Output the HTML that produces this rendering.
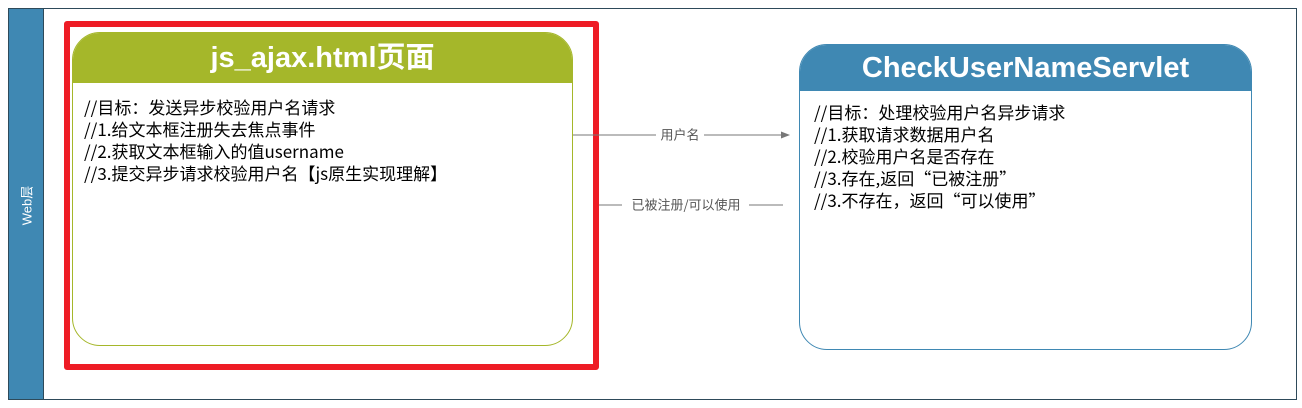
<!DOCTYPE html>
<html><head><meta charset="utf-8"><style>
body{margin:0;width:1302px;height:408px;background:#fff;position:relative;overflow:hidden;font-family:"Liberation Sans","Noto Sans CJK SC",sans-serif}
.abs{position:absolute;box-sizing:border-box}
.t{font-size:17px;line-height:22px;color:#000;font-family:"Noto Sans CJK SC",sans-serif;white-space:nowrap}
</style></head><body>
<div class="abs" style="left:8px;top:8px;width:1289px;height:392px;border:1px solid #2e4a5a"></div>
<div class="abs" style="left:8px;top:8px;width:36px;height:392px;background:#3f88b3;border:1px solid #2e4a5a"></div>
<div class="abs" style="left:8px;top:190px;width:36px;height:30px;color:#fff;font-size:13px;display:flex;align-items:center;justify-content:center"><span style="transform:rotate(-90deg);white-space:nowrap">Web层</span></div>

<div class="abs" style="left:72px;top:32px;width:501px;height:314px;border:1px solid #a5b72a;border-radius:28px;overflow:hidden">
 <div style="height:50px;background:#a5b72a;color:#fff;font-weight:bold;font-size:29px;text-align:center;line-height:50px">js_ajax.html页面</div>
 <div class="t" style="padding:13px 0 0 11px">//目标：发送异步校验用户名请求<br>//1.给文本框注册失去焦点事件<br>//2.获取文本框输入的值username<br>//3.提交异步请求校验用户名【js原生实现理解】</div>
</div>
<div class="abs" style="left:64px;top:21px;width:535px;height:349px;border:6px solid #ee1c25;border-radius:3px"></div>

<div class="abs" style="left:799px;top:44px;width:453px;height:306px;border:1px solid #3f88b3;border-radius:28px;overflow:hidden">
 <div style="height:46px;background:#3f88b3;color:#fff;font-weight:bold;font-size:29px;text-align:center;line-height:46px">CheckUserNameServlet</div>
 <div class="t" style="padding:10px 0 0 14px">//目标：处理校验用户名异步请求<br>//1.获取请求数据用户名<br>//2.校验用户名是否存在<br>//3.存在,返回“已被注册”<br>//3.不存在，返回“可以使用”</div>
</div>

<svg class="abs" style="left:0;top:0" width="1302" height="408">
 <line x1="573" y1="135" x2="656" y2="135" stroke="#777" stroke-width="1"/>
 <line x1="704" y1="135" x2="782" y2="135" stroke="#777" stroke-width="1"/>
 <polygon points="790,135 781,131.5 781,138.5" fill="#777"/>
 <text x="680" y="139.5" font-size="13" fill="#555" text-anchor="middle" font-family="Noto Sans CJK SC, sans-serif">用户名</text>
 <line x1="599" y1="205" x2="622" y2="205" stroke="#777" stroke-width="1"/>
 <line x1="749" y1="205" x2="783" y2="205" stroke="#777" stroke-width="1"/>
 <text x="686" y="209.5" font-size="13" fill="#555" text-anchor="middle" font-family="Noto Sans CJK SC, sans-serif">已被注册/可以使用</text>
</svg>
</body></html>
